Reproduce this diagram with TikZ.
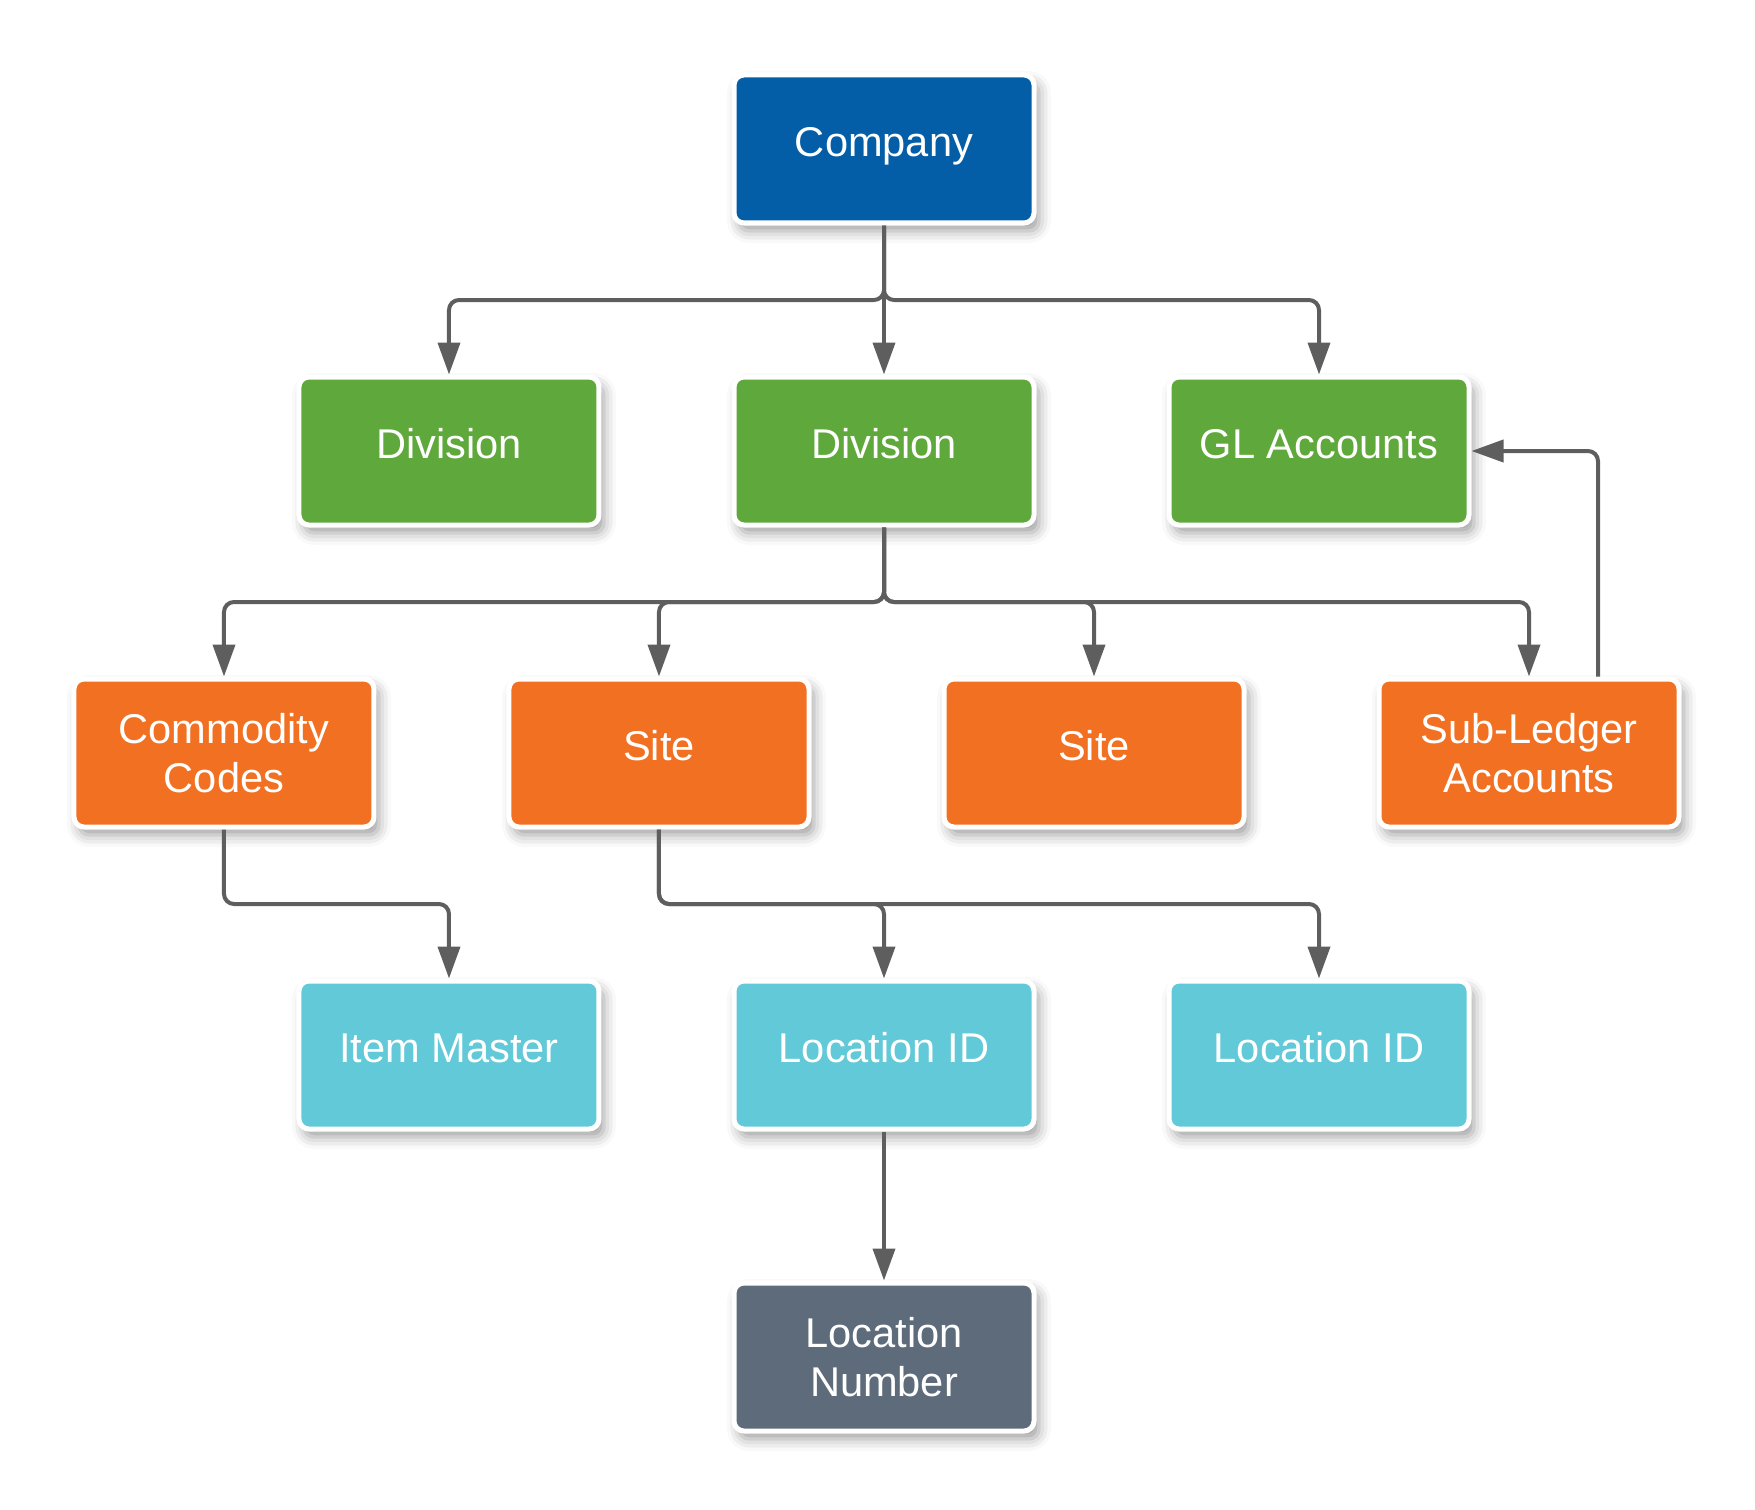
\documentclass[tikz,border=0pt]{standalone}
\usepackage{fontspec}
\setmainfont{Liberation Sans}
\usepackage{tikz}
\usetikzlibrary{positioning,arrows.meta,calc,shadows.blur}
\definecolor{coBlue}{HTML}{035DA7}
\definecolor{divGreen}{HTML}{5FA83B}
\definecolor{siteOrange}{HTML}{F27021}
\definecolor{locCyan}{HTML}{62C9D8}
\definecolor{numGray}{HTML}{5D6B7B}
\definecolor{lineGray}{HTML}{5E5E5E}
\tikzset{
  box/.style={draw=white,line width=2.5pt,rounded corners=5pt,text=white,align=center,
    minimum width=150pt,minimum height=74pt,inner sep=4pt,
    font=\fontsize{20.8}{24.6}\selectfont,
    blur shadow={shadow xshift=2.5pt,shadow yshift=-4pt,shadow blur radius=6pt,shadow opacity=38}},
  single/.style={text height=14.9pt,text depth=7.4pt},
  cobox/.style={box,fill=coBlue},
  divbox/.style={box,fill=divGreen},
  sitebox/.style={box,fill=siteOrange},
  locbox/.style={box,fill=locCyan},
  numbox/.style={box,fill=numGray},
  arr/.style={-{Triangle[width=11pt,length=16pt]},line width=2pt,draw=lineGray,rounded corners=5pt},
}

\begin{document}
\begin{tikzpicture}[node distance=74.5pt and 65pt]
\useasboundingbox (-442pt,74.5pt) rectangle (435.5pt,-680pt);
\node[cobox, single] (company) {Company};
\node[divbox, single, below=of company] (divB) {Division};
\node[divbox, single, left=of divB] (divA) {Division};
\node[divbox, single, right=of divB] (gl) {GL Accounts};
\node[sitebox, single, below=of divB, xshift=-112.5pt] (siteA) {Site};
\node[sitebox, left=of siteA] (comm) {Commodity\\Codes};
\node[sitebox, single, right=of siteA] (siteB) {Site};
\node[sitebox, right=of siteB] (sub) {Sub-Ledger\\Accounts};
\node[locbox, single, below=of siteA, xshift=112.5pt] (locA) {Location ID};
\node[locbox, single, left=of locA] (item) {Item Master};
\node[locbox, single, right=of locA] (locB) {Location ID};
\node[numbox, below=of locA] (locnum) {Location\\Number};

\coordinate (busA) at ($(company.south)+(0,-37.25pt)$);
\coordinate (busB) at ($(divB.south)+(0,-37.25pt)$);
\coordinate (busC) at ($(siteA.south)+(0,-37.25pt)$);
\coordinate (busD) at ($(comm.south)+(0,-37.25pt)$);

\draw[arr] (company.south) -- (busA) -| (divA.north);
\draw[arr] (company.south) -- (divB.north);
\draw[arr] (company.south) -- (busA) -| (gl.north);
\foreach \n in {comm,siteA,siteB,sub}
  \draw[arr] (divB.south) -- (busB) -| (\n.north);
\draw[arr] (comm.south) -- (busD) -| (item.north);
\draw[arr] (siteA.south) -- (busC) -| (locA.north);
\draw[arr] (siteA.south) -- (busC) -| (locB.north);
\draw[arr] (locA) -- (locnum);
\draw[arr] ([xshift=34.5pt]sub.north) |- (gl.east);

\end{tikzpicture}
\end{document}
